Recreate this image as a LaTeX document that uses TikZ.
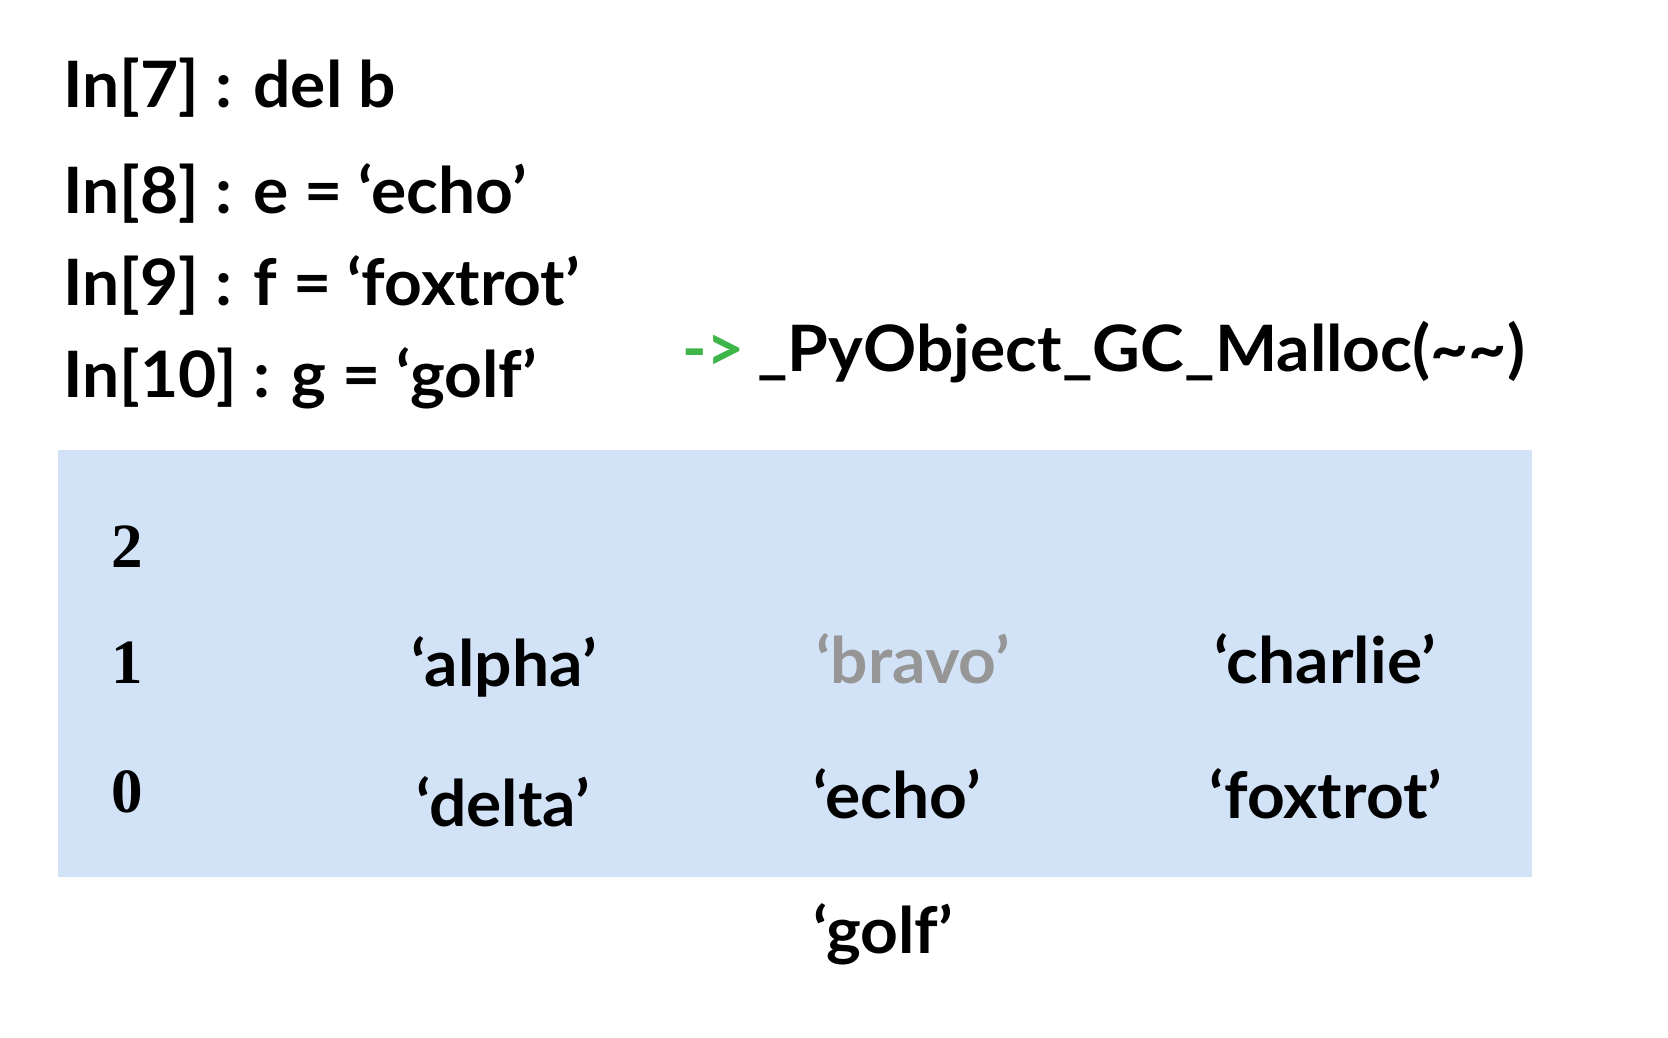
\documentclass[tikz,border=0pt]{standalone}
\usepackage{fontspec}
\newfontfamily\cf{Lato}[FakeStretch=1.03]
\newfontfamily\numf{Liberation Serif}
\definecolor{stackblue}{RGB}{211,227,247}
\definecolor{gonegray}{RGB}{150,150,150}
\definecolor{arrowgreen}{RGB}{62,181,72}
\begin{document}
\begin{tikzpicture}[x=1pt,y=-1pt,
  code/.style={anchor=base west, inner sep=0pt, font=\cf\bfseries\fontsize{64}{70}\selectfont},
  cell/.style={anchor=base, inner sep=0pt, font=\cf\bfseries\fontsize{64}{70}\selectfont},
  idx/.style={anchor=base, inner sep=0pt, font=\numf\bfseries\fontsize{63}{70}\selectfont}]
\useasboundingbox (0,0) rectangle (1668,1038);
\fill[white] (0,0) rectangle (1668,1038);
\node[fill=stackblue, anchor=north west, inner sep=0pt, minimum width=1474pt, minimum height=427pt] (frame) at (58,450) {};
% code lines
\node[code] (l7) at (63,108) {In[7] : del b};
\node[code] (l8) at (63,213) {In[8] : e = ‘echo’};
\node[code] (l9) at (63,305) {In[9] : f = ‘foxtrot’};
\node[code] (l10) at (63,397) {In[10] : g = ‘golf’};
\node[code, text=arrowgreen] (arr) at (682,371) {->};
\node[code] (malloc) at (757,371) {\_PyObject\_GC\_Malloc(\textasciitilde\textasciitilde)};
% indices
\node[idx] (i2) at (127,567) {2};
\node[idx] (i1) at (127,683) {1};
\node[idx] (i0) at (127,812) {0};
% cells
\node[cell] (alpha) at (504,686) {‘alpha’};
\node[cell, text=gonegray] (bravo) at (913,683) {‘bravo’};
\node[cell] (charlie) at (1325,683) {‘charlie’};
\node[cell] (delta) at (503,826) {‘delta’};
\node[cell] (echo) at (897,818) {‘echo’};
\node[cell] (foxtrot) at (1326,818) {‘foxtrot’};
\node[cell] (golf) at (883,953) {‘golf’};
\end{tikzpicture}
\end{document}
